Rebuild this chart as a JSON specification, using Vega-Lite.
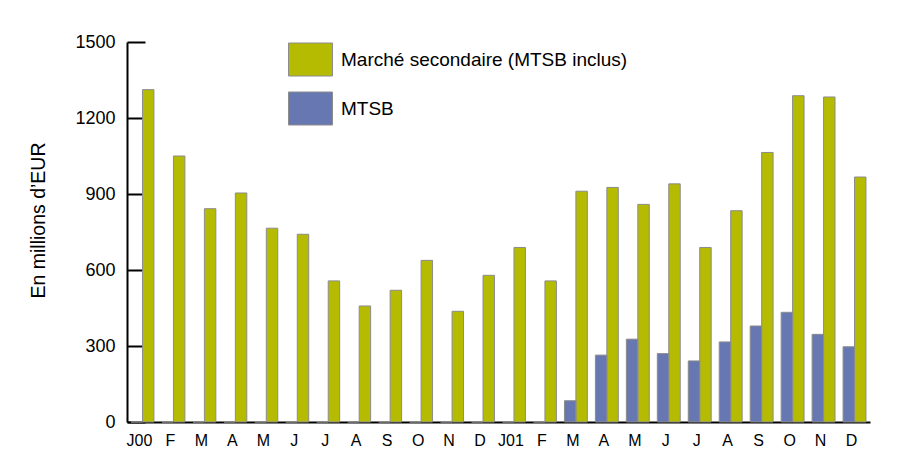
{
  "$schema": "https://vega.github.io/schema/vega-lite/v6.json",
  "width": 743,
  "height": 380,
  "autosize": "none",
  "padding": {"left": 127, "top": 42, "right": 33, "bottom": 32},
  "background": "white",
  "config": {"font": "Liberation Sans", "view": {"stroke": null}},
  "data": {
    "values": [
      {"mois": "2000-01", "serie": "Marché secondaire (MTSB inclus)", "valeur": 1312},
      {"mois": "2000-02", "serie": "Marché secondaire (MTSB inclus)", "valeur": 1050},
      {"mois": "2000-03", "serie": "Marché secondaire (MTSB inclus)", "valeur": 842},
      {"mois": "2000-04", "serie": "Marché secondaire (MTSB inclus)", "valeur": 904},
      {"mois": "2000-05", "serie": "Marché secondaire (MTSB inclus)", "valeur": 765},
      {"mois": "2000-06", "serie": "Marché secondaire (MTSB inclus)", "valeur": 741},
      {"mois": "2000-07", "serie": "Marché secondaire (MTSB inclus)", "valeur": 557},
      {"mois": "2000-08", "serie": "Marché secondaire (MTSB inclus)", "valeur": 458},
      {"mois": "2000-09", "serie": "Marché secondaire (MTSB inclus)", "valeur": 520},
      {"mois": "2000-10", "serie": "Marché secondaire (MTSB inclus)", "valeur": 638},
      {"mois": "2000-11", "serie": "Marché secondaire (MTSB inclus)", "valeur": 437},
      {"mois": "2000-12", "serie": "Marché secondaire (MTSB inclus)", "valeur": 579},
      {"mois": "2001-01", "serie": "Marché secondaire (MTSB inclus)", "valeur": 689},
      {"mois": "2001-02", "serie": "Marché secondaire (MTSB inclus)", "valeur": 557},
      {"mois": "2001-03", "serie": "Marché secondaire (MTSB inclus)", "valeur": 911},
      {"mois": "2001-04", "serie": "Marché secondaire (MTSB inclus)", "valeur": 926},
      {"mois": "2001-05", "serie": "Marché secondaire (MTSB inclus)", "valeur": 859},
      {"mois": "2001-06", "serie": "Marché secondaire (MTSB inclus)", "valeur": 940},
      {"mois": "2001-07", "serie": "Marché secondaire (MTSB inclus)", "valeur": 689},
      {"mois": "2001-08", "serie": "Marché secondaire (MTSB inclus)", "valeur": 834},
      {"mois": "2001-09", "serie": "Marché secondaire (MTSB inclus)", "valeur": 1064},
      {"mois": "2001-10", "serie": "Marché secondaire (MTSB inclus)", "valeur": 1288},
      {"mois": "2001-11", "serie": "Marché secondaire (MTSB inclus)", "valeur": 1283},
      {"mois": "2001-12", "serie": "Marché secondaire (MTSB inclus)", "valeur": 967},
      {"mois": "2000-01", "serie": "MTSB", "valeur": 0},
      {"mois": "2000-02", "serie": "MTSB", "valeur": 0},
      {"mois": "2000-03", "serie": "MTSB", "valeur": 0},
      {"mois": "2000-04", "serie": "MTSB", "valeur": 0},
      {"mois": "2000-05", "serie": "MTSB", "valeur": 0},
      {"mois": "2000-06", "serie": "MTSB", "valeur": 0},
      {"mois": "2000-07", "serie": "MTSB", "valeur": 0},
      {"mois": "2000-08", "serie": "MTSB", "valeur": 0},
      {"mois": "2000-09", "serie": "MTSB", "valeur": 0},
      {"mois": "2000-10", "serie": "MTSB", "valeur": 0},
      {"mois": "2000-11", "serie": "MTSB", "valeur": 0},
      {"mois": "2000-12", "serie": "MTSB", "valeur": 0},
      {"mois": "2001-01", "serie": "MTSB", "valeur": 0},
      {"mois": "2001-02", "serie": "MTSB", "valeur": 0},
      {"mois": "2001-03", "serie": "MTSB", "valeur": 84},
      {"mois": "2001-04", "serie": "MTSB", "valeur": 264},
      {"mois": "2001-05", "serie": "MTSB", "valeur": 327},
      {"mois": "2001-06", "serie": "MTSB", "valeur": 270},
      {"mois": "2001-07", "serie": "MTSB", "valeur": 241},
      {"mois": "2001-08", "serie": "MTSB", "valeur": 316},
      {"mois": "2001-09", "serie": "MTSB", "valeur": 379},
      {"mois": "2001-10", "serie": "MTSB", "valeur": 433},
      {"mois": "2001-11", "serie": "MTSB", "valeur": 346},
      {"mois": "2001-12", "serie": "MTSB", "valeur": 297}
    ]
  },
  "mark": {"type": "bar", "stroke": "#8c8c8c", "strokeWidth": 1},
  "encoding": {
    "x": {
      "field": "mois",
      "type": "nominal",
      "sort": null,
      "scale": {"paddingInner": 0.26, "paddingOuter": 0.13},
      "axis": {
        "title": null,
        "labelAngle": 0,
        "labelExpr": "substring(datum.value,5,7)=='01' ? 'J'+substring(datum.value,2,4) : substring('JFMAMJJASOND', toNumber(substring(datum.value,5,7))-1, toNumber(substring(datum.value,5,7)))",
        "labelFontSize": 16,
        "labelColor": "#000",
        "ticks": false,
        "domainColor": "#000",
        "domainWidth": 2,
        "labelPadding": 10,
        "labelOffset": -3
      }
    },
    "xOffset": {
      "field": "serie",
      "type": "nominal",
      "scale": {"domain": ["MTSB", "Marché secondaire (MTSB inclus)"], "paddingInner": 0, "paddingOuter": 0}
    },
    "y": {
      "field": "valeur",
      "type": "quantitative",
      "scale": {"domain": [0, 1500]},
      "axis": {
        "values": [0, 300, 600, 900, 1200, 1500],
        "format": "d",
        "title": "En millions d’EUR",
        "grid": false,
        "tickSize": -18,
        "tickWidth": 2,
        "tickColor": "#000",
        "domainWidth": 2,
        "domainColor": "#000",
        "labelFontSize": 18,
        "labelPadding": 30,
        "labelColor": "#000",
        "titleFontSize": 19.5,
        "titleFontWeight": "normal",
        "titleColor": "#000",
        "titleX": -83,
        "titleY": 178,
        "titleBaseline": "alphabetic",
        "titleAngle": -90
      }
    },
    "color": {
      "field": "serie",
      "type": "nominal",
      "scale": {"domain": ["Marché secondaire (MTSB inclus)", "MTSB"], "range": ["#b4bb00", "#6677b2"]},
      "legend": {
        "title": null,
        "orient": "none",
        "legendX": 161,
        "legendY": -5,
        "symbolType": "M-1,-0.75H1V0.75H-1Z",
        "symbolSize": 1936,
        "symbolStrokeColor": "#8c8c8c",
        "symbolStrokeWidth": 1,
        "symbolOpacity": 1,
        "labelFontSize": 19,
        "labelColor": "#000",
        "labelOffset": 8,
        "labelLimit": 400,
        "rowPadding": 8,
        "padding": 0
      }
    }
  }
}
